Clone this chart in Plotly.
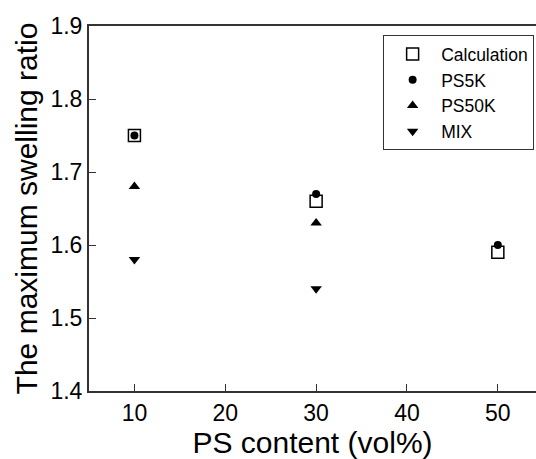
import plotly.graph_objects as go

ps_content = [10, 30, 50]
calc = [1.75, 1.66, 1.59]
ps5k = [1.75, 1.67, 1.60]
ps50k_x = [10, 30]
ps50k = [1.68, 1.63]
mix_x = [10, 30]
mix = [1.58, 1.54]

FONT = "Liberation Sans, Arial, sans-serif"

fig = go.Figure()
fig.add_trace(go.Scatter(x=ps_content, y=calc, mode="markers", name="Calculation",
                         marker=dict(symbol="square-open", size=12, color="black",
                                     line=dict(width=1.5, color="black"))))
fig.add_trace(go.Scatter(x=ps_content, y=ps5k, mode="markers", name="PS5K",
                         marker=dict(symbol="circle", size=8, color="black")))
fig.add_trace(go.Scatter(x=ps50k_x, y=ps50k, mode="markers", name="PS50K",
                         marker=dict(symbol="triangle-up", size=10, color="black")))
fig.add_trace(go.Scatter(x=mix_x, y=mix, mode="markers", name="MIX",
                         marker=dict(symbol="triangle-down", size=10, color="black")))

fig.update_layout(
    width=536, height=459,
    margin=dict(l=89, r=0, t=26, b=68),
    plot_bgcolor="white", paper_bgcolor="white",
    font=dict(family=FONT, color="black"),
    legend=dict(x=0.658, y=0.975, xanchor="left", yanchor="top",
                bordercolor="#333", borderwidth=1, bgcolor="white",
                font=dict(size=17.5, family=FONT), tracegroupgap=0, itemwidth=47),
    xaxis=dict(range=[5, 54.2], tickvals=[10, 20, 30, 40, 50], ticks="inside",
               ticklen=7, tickwidth=1.2, tickcolor="#333", showline=True,
               linecolor="#333", linewidth=2, mirror=True, showgrid=False,
               zeroline=False, tickfont=dict(size=23), automargin=False,
               title=dict(text="PS content (vol%)", font=dict(size=30), standoff=8)),
    yaxis=dict(range=[1.4, 1.9], tickvals=[1.4, 1.5, 1.6, 1.7, 1.8, 1.9],
               tickformat=".1f", ticks="inside", ticklen=7, tickwidth=1.2,
               tickcolor="#333", showline=True, linecolor="#333", linewidth=2,
               showgrid=False, zeroline=False, tickfont=dict(size=23), automargin=False,
               title=dict(text="The maximum swelling ratio", font=dict(size=30), standoff=4)),
)

fig.write_html("out.html", config={"displayModeBar": False},
               post_script="document.body.style.margin='0';")
